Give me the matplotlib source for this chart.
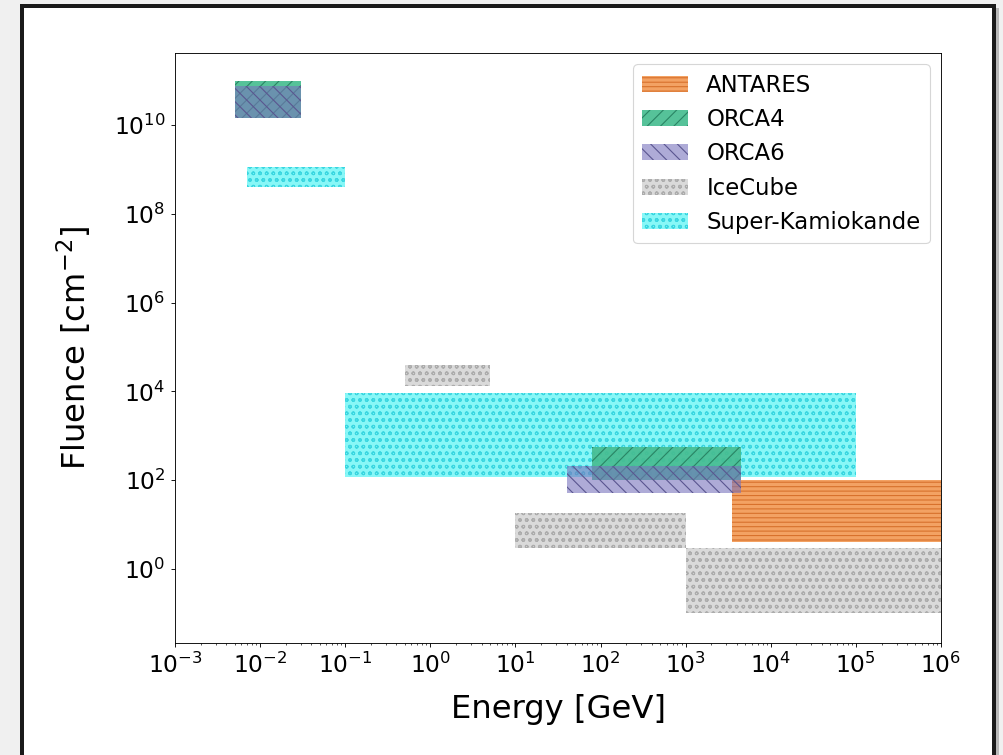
"""
Fluence vs energy coverage of neutrino experiments.
"""

import matplotlib.pyplot as plt
from matplotlib.patches import Rectangle


# ------------------------------------------------------------
# Data: energy ranges [GeV] and fluence ranges [cm^-2] per box
# ------------------------------------------------------------

antares_emin = [3.5e3]
antares_emax = [1e6]
antares_fmin = [4]
antares_fmax = [100]

orca4_emin = [5e-3, 80]
orca4_emax = [3e-2, 4.5e3]
orca4_fmin = [1.4e10, 100]
orca4_fmax = [1e11, 550]

orca6_emin = [5e-3, 40]
orca6_emax = [3e-2, 4.5e3]
orca6_fmin = [1.4e10, 50]
orca6_fmax = [7.5e10, 210]

icecube_emin = [0.5, 10, 1e3]
icecube_emax = [5, 1e3, 1e6]
icecube_fmin = [1.3e4, 3, 0.1]
icecube_fmax = [4e4, 18, 3]

sk_emin = [7e-3, 0.1]
sk_emax = [0.1, 1e5]
sk_fmin = [4e8, 120]
sk_fmax = [1.1e9, 9e3]

y_ticks = [1e0, 1e2, 1e4, 1e6, 1e8, 1e10]


# ------------------------------------------------------------
# Figure
# ------------------------------------------------------------

fig = plt.figure(figsize=(1003 / 80, 755 / 80), dpi=80, facecolor="#f0f0f0")

# outer frame with a little shadow (behind the axes)
fig.patches.append(Rectangle((0.024, -0.05), 0.972, 1.04, transform=fig.transFigure,
                             facecolor="#b8b8b8", edgecolor="none", zorder=-3))
fig.patches.append(Rectangle((0.0215, -0.05), 0.970, 1.0415, transform=fig.transFigure,
                             facecolor="white", edgecolor="#1a1a1a", linewidth=3.6, zorder=-2))

ax = fig.add_axes([0.1745, 0.1483, 0.7637, 0.7815])
ax.set_xscale("log")
ax.set_yscale("log")


def boxes(emin, emax, fmin, fmax, face, edge, hatch, label, z):
    widths = [b - a for a, b in zip(emin, emax)]
    heights = [b - a for a, b in zip(fmin, fmax)]
    ax.bar(emin, heights, width=widths, bottom=fmin, align="edge",
           color=face, edgecolor=edge, hatch=hatch, linewidth=0,
           label=label, zorder=z)


boxes(antares_emin, antares_emax, antares_fmin, antares_fmax,
      "#f3a263", "#d8712c", "---", "ANTARES", 3)
boxes(orca4_emin, orca4_emax, orca4_fmin, orca4_fmax,
      (0.28, 0.74, 0.57, 0.92), "#2a8464", "//", "ORCA4", 4)
boxes(orca6_emin, orca6_emax, orca6_fmin, orca6_fmax,
      (0.47, 0.45, 0.74, 0.6), "#5a5690", "\\\\", "ORCA6", 5)
boxes(icecube_emin, icecube_emax, icecube_fmin, icecube_fmax,
      "#dadada", "#acacac", "oo", "IceCube", 2)
boxes(sk_emin, sk_emax, sk_fmin, sk_fmax,
      "#88f7f7", "#3ad6e0", "oo", "Super-Kamiokande", 1)

ax.set_xlim(1e-3, 1e6)
ax.set_ylim(10 ** -1.67, 10 ** 11.62)
ax.set_yticks(y_ticks)

ax.set_xlabel("Energy [GeV]", fontsize=29, labelpad=15)
ax.set_ylabel("Fluence [cm$^{-2}$]", fontsize=29, labelpad=18)
ax.tick_params(labelsize=21, pad=5)

ax.legend(loc="upper right", fontsize=20.5, labelspacing=0.5)

fig.savefig("out.png", dpi=80, facecolor=fig.get_facecolor())
